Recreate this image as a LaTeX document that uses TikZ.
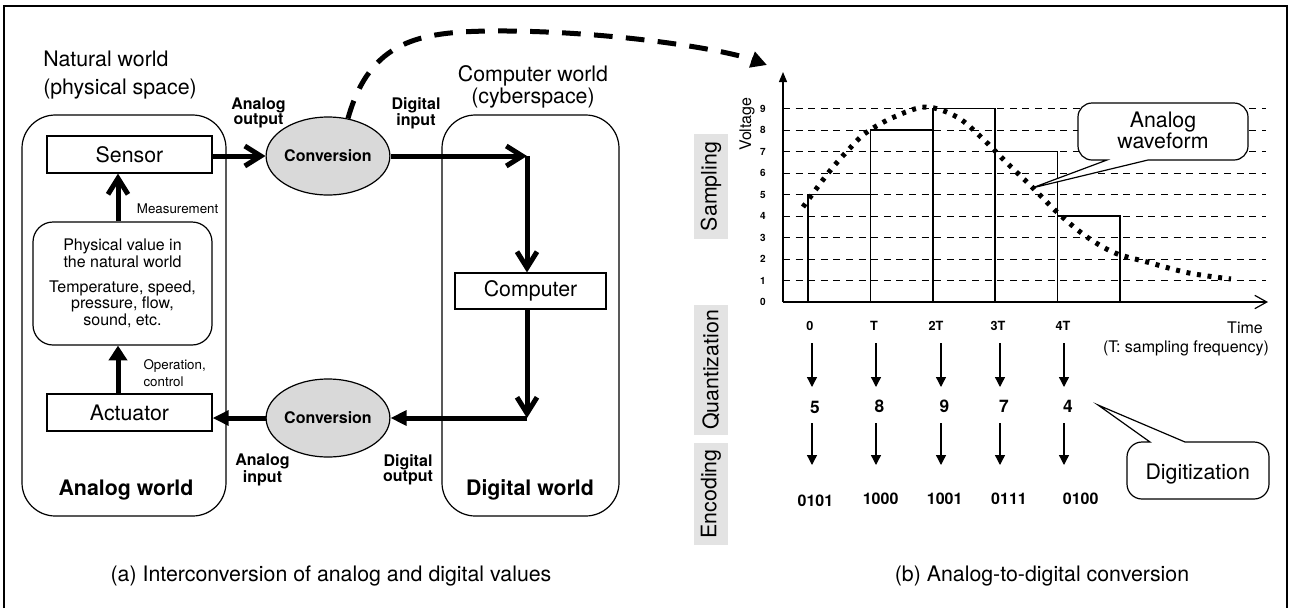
\documentclass[tikz,border=0pt]{standalone}
\usepackage{fontspec}
\setmainfont{TeX Gyre Heros}
\usetikzlibrary{arrows.meta,shapes.geometric}
\newcommand{\fsz}[2]{\fontsize{#1}{#2}\selectfont}
\definecolor{convgray}{gray}{0.85}
\definecolor{sidegray}{gray}{0.89}
\begin{document}
\begin{tikzpicture}[x=0.75pt,y=-0.75pt,
  outerframe/.style={line width=0.9pt},
  world/.style={draw,line width=0.9pt,rounded corners=25pt,inner sep=0},
  box/.style={draw,line width=0.9pt,minimum width=123.75pt,minimum height=27.75pt,inner sep=0,font=\fsz{16}{19}},
  physbox/.style={draw,line width=0.9pt,rounded corners=15pt,minimum width=134.25pt,minimum height=92.25pt,inner sep=0,align=center,font=\fsz{12}{12.4}},
  conv/.style={ellipse,draw,line width=0.9pt,fill=convgray,minimum width=75pt,minimum height=58.5pt,inner sep=0,font=\bfseries\fsz{12}{14}},
  barbarrow/.style={line width=3.75pt,-{Straight Barb[length=12pt,width=15pt]}},
  triarrow/.style={line width=3.75pt,-{Triangle[length=12pt,width=11pt]}},
  smallarrow/.style={line width=1pt,-{Triangle[length=7.5pt,width=7.5pt]}},
  iolabel/.style={font=\bfseries\fsz{12}{11.25},align=center,inner sep=0},
  headtext/.style={font=\fsz{16}{19},inner sep=0},
  note/.style={font=\fsz{10}{12.5},inner sep=0},
  sidelabel/.style={rotate=90,fill=sidegray,minimum height=25.5pt,inner sep=0,font=\fsz{16}{19}},
  levelline/.style={line width=0.75pt,dash pattern=on 5.25pt off 4.2pt},
  barline/.style={line width=1.2pt},
  wave/.style={line width=3.75pt,dash pattern=on 3pt off 5pt},
  numlabel/.style={font=\bfseries\fsz{7.5}{9},inner sep=0},
  tlabel/.style={font=\bfseries\fsz{9.5}{11},inner sep=0,anchor=base},
  qlabel/.style={font=\bfseries\fsz{13}{15},inner sep=0,anchor=base},
  clabel/.style={font=\bfseries\fsz{12}{14},inner sep=0,anchor=base},
  calloutline/.style={draw,line width=0.9pt,fill=white}
]
\useasboundingbox (0,0) rectangle (1290,608);
% outer frame
\draw[outerframe] (4,608) -- (4,6) -- (1287,6) -- (1287,608);

% ---------- (a) ----------
\node[world,minimum width=153pt,minimum height=300.75pt] (aw) at (124,315.5) {};
\node[world,minimum width=132.75pt,minimum height=300.75pt] (dw) at (530.5,315.5) {};

\node[headtext,align=left,anchor=west,font=\fsz{16}{21}] (nat) at (43,75) {Natural world\\(physical space)};
\node[headtext,align=center,font=\fsz{16}{16.3}] (cyb) at (533,87) {Computer world\\(cyberspace)};

\node[box] (sensor) at (129.5,154.5) {Sensor};
\node[physbox] (phys) at (122.5,283.5) {Physical value in\\the natural world\\[6.4pt]Temperature, speed,\\pressure, flow,\\sound, etc.};
\node[box] (act) at (129.5,412.5) {Actuator};
\node[box,minimum width=113.25pt,minimum height=27pt] (comp) at (530.5,291) {Computer};

\node[conv] (conv1) at (328,156) {Conversion};
\node[conv] (conv2) at (328,418) {Conversion};

\coordinate (vx) at (118,0);
\coordinate (c1) at (527,156);
\coordinate (c2) at (527,418);

\draw[barbarrow] (phys.north -| vx) -- (sensor.south -| vx);
\draw[line width=3.75pt,-{Triangle[length=11pt,width=13.5pt]}] (act.north -| vx) -- (phys.south -| vx);
\draw[barbarrow] (sensor.east |- conv1.west) -- (conv1.west);
\draw[barbarrow] (conv1.east) -- (c1);
\draw[barbarrow] (c1) -- (c1 |- comp.north);
\draw[barbarrow] (comp.south -| c2) -- (c2);
\draw[triarrow] (c2) -- (conv2.east);
\draw[triarrow] (conv2.west) -- (conv2.west -| act.east);

\node[iolabel] (ao) at (258.5,113.4) {Analog\\output};
\node[iolabel] (di) at (416,113.4) {Digital\\input};
\node[iolabel] (ai) at (262.5,470) {Analog\\input};
\node[iolabel] (dout) at (408,470) {Digital\\output};

\node[note,anchor=base west] (meas) at (136.7,213.3) {Measurement};
\node[note,align=left,anchor=west] (opc) at (143.3,372.8) {Operation,\\control};

\node[headtext,font=\bfseries\fsz{16}{19},anchor=base] (awl) at (126,495) {Analog world};
\node[headtext,font=\bfseries\fsz{16}{19},anchor=base] (dwl) at (530,495) {Digital world};
\node[headtext,anchor=base] (capa) at (331,581.7) {(a) Interconversion of analog and digital values};

% dashed curve
\draw[line width=3.75pt,dash pattern=on 14pt off 10pt,-{Triangle[length=12pt,width=12pt]}]
  (conv1.62) .. controls (370,40) and (420,32) .. (490,31) .. controls (600,30) and (720,48) .. (767,65);

% ---------- (b) ----------
\node[sidelabel,minimum width=78.75pt] (samp) at (711,186.5) {Sampling};
\node[sidelabel,minimum width=97.5pt] (quant) at (711,370) {Quantization};
\node[sidelabel,minimum width=76.5pt] (enc) at (711,494) {Encoding};

\coordinate (origin) at (783,302);
\foreach \k in {1,...,9} \draw[levelline] (783,{302-21.5*\k}) -- (1266,{302-21.5*\k});
\foreach \k in {0,...,9} \node[numlabel] (n\k) at (763,{302-21.5*\k}) {\k};

\foreach \i/\v in {0/5,1/8,2/9,3/7,4/4}
  \draw[barline] ({808+62.4*\i},302) rectangle ({808+62.4*(\i+1)},{302-21.5*\v});
\draw[line width=1.6pt] (808,302) -- (1120,302);

\draw[line width=0.9pt,-{Triangle[length=7.5pt,width=6pt]}] (origin) -- (783,72);
\draw[line width=0.9pt,-{Straight Barb[length=9pt,width=10pt]}] (origin) -- (1268,302);
\node[font=\fsz{12}{14},rotate=90,inner sep=0] (volt) at (747,124) {Voltage};

\draw[wave] plot[smooth,tension=0.55] coordinates {(803,207) (829,172) (851,147) (867,132) (894,117) (926,107) (957,117) (982,138) (1006,162) (1031,186) (1059,214) (1087,237) (1115,253) (1147,262) (1189,273) (1231,279)};

% time labels, arrows, values, codes
\node[tlabel] (t0) at (810,330.5) {0};
\node[tlabel] (t1) at (874,330.5) {T};
\node[tlabel] (t2) at (936,330.5) {2T};
\node[tlabel] (t3) at (998,330.5) {3T};
\node[tlabel] (t4) at (1063,330.5) {4T};
\node[qlabel] (q0) at (815,413.5) {5};
\node[qlabel] (q1) at (879.5,412) {8};
\node[qlabel] (q2) at (944.5,412) {9};
\node[qlabel] (q3) at (1004,412) {7};
\node[qlabel] (q4) at (1068,412) {4};
\node[clabel] (e0) at (815.4,506) {0101};
\node[clabel] (e1) at (880.6,504.3) {1000};
\node[clabel] (e2) at (944.7,504.3) {1001};
\node[clabel] (e3) at (1009,504.3) {0111};
\node[clabel] (e4) at (1080.7,504.3) {0100};
\foreach \x in {812,876,941,1000,1064} {
  \draw[smallarrow] (\x,343) -- (\x,387);
  \draw[smallarrow] (\x,423) -- (\x,465);
}

\node[font=\fsz{12}{14},anchor=base,inner sep=0] (time) at (1245,333.3) {Time};
\node[font=\fsz{12}{14},anchor=base,inner sep=0] (tsf) at (1186,352.7) {(T: sampling frequency)};

% callouts
\draw[calloutline] (1107,160) -- (1032,188) -- (1148,160) -- (1234,160)
  arc[start angle=90,end angle=0,radius=14] -- (1248,117)
  arc[start angle=0,end angle=-90,radius=14] -- (1092,103)
  arc[start angle=-90,end angle=-180,radius=14] -- (1078,146)
  arc[start angle=180,end angle=90,radius=14] -- cycle;
\node[font=\fsz{16}{15.5},align=center,inner sep=0] (awf) at (1163,130.2) {Analog\\waveform};

\draw[calloutline] (1150,442) -- (1098,405) -- (1185,442) -- (1254,442)
  arc[start angle=-90,end angle=0,radius=15] -- (1269,484)
  arc[start angle=0,end angle=90,radius=15] -- (1142,499)
  arc[start angle=90,end angle=180,radius=15] -- (1127,457)
  arc[start angle=180,end angle=270,radius=15] -- cycle;
\node[headtext,anchor=base] (dig) at (1197.7,479.3) {Digitization};

\node[headtext,anchor=base] (capb) at (1042,581.7) {(b) Analog-to-digital conversion};
\end{tikzpicture}
\end{document}
